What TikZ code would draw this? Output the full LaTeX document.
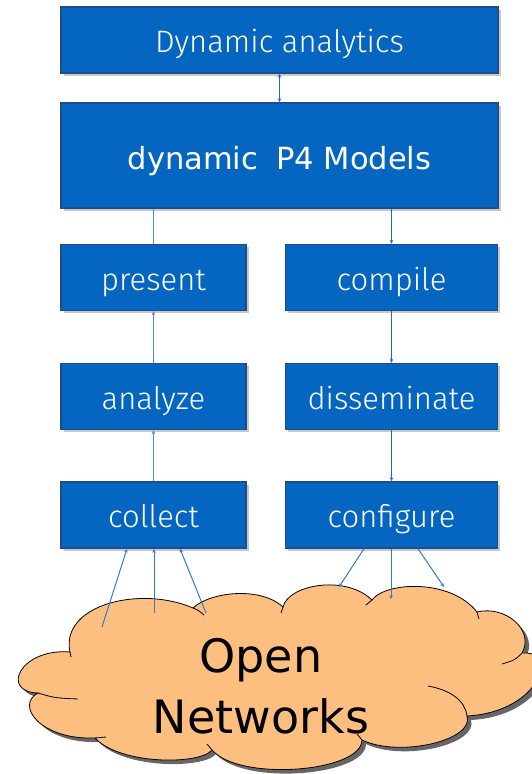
\documentclass[tikz,border=0pt]{standalone}
\usepackage{fontspec}
\setmainfont{DejaVu Sans}
\newfontfamily\lightsans{Fira Sans Light}
\usetikzlibrary{shadows,calc,arrows.meta}

\definecolor{boxblue}{HTML}{0566C1}
\definecolor{boxedge}{HTML}{1B4F8C}
\definecolor{linkup}{HTML}{4A8FD8}
\definecolor{linkdown}{HTML}{1A6CC4}
\definecolor{cloudfill}{HTML}{FDBF80}

\begin{document}
\begin{tikzpicture}[x=1pt,y=-1pt,
  tip/.tip={Stealth[length=4pt,width=3.5pt]},
  box/.style={draw=boxedge, line width=1.4pt, fill=boxblue, text=white,
    inner sep=0pt, minimum height=66pt, text height=30pt, text depth=5pt,
    font=\lightsans\fontsize{31}{36}\selectfont,
    drop shadow={shadow xshift=2.5pt, shadow yshift=-2.5pt, opacity=0.22, fill=black}},
  leftbox/.style={box, minimum width=185pt},
  rightbox/.style={box, minimum width=212pt},
  up/.style={draw=linkup, line width=1pt},
  down/.style={draw=linkdown, line width=1pt},
  netlink/.style={draw=linkdown!90!white, line width=1pt, -tip},
  cloudbody/.style={fill=cloudfill, draw=black, line width=0.8pt,
    drop shadow={shadow xshift=4pt, shadow yshift=-4pt, opacity=0.6, fill=black}},
  cloudline/.style={draw=black, line width=0.8pt}
]
\useasboundingbox (0,0) rectangle (531,774);

% control chain boxes
\node[box, minimum width=437pt] (da) at (279.5,40) {Dynamic analytics};
\node[box, minimum width=437pt, minimum height=105pt, text height=32pt, text depth=5pt,
      font=\fontsize{30.5}{36}\selectfont] (pm) at (279.5,155.5) {dynamic\hspace{0.6em}P4 Models};
\node[leftbox]  (present) at (153.5,277.5) {present};
\node[rightbox] (compile) at (391.5,277.5) {compile};
\node[leftbox]  (analyze) at (153.5,396.5) {analyze};
\node[rightbox] (dissem)  at (391.5,396.5) {disseminate};
\node[leftbox]  (collect) at (153.5,515) {collect};
\node[rightbox] (config)  at (391.5,515) {configure};

% links between the boxes
\draw[down, tip-tip] (da.south) -- (pm.north);
\draw[up] (present.north) -- (present.north |- pm.south);
\draw[up, -tip] (analyze.north) -- (present.south);
\draw[up, -tip] (collect.north) -- (analyze.south);
\draw[down, -tip] (compile.north |- pm.south) -- (compile.north);
\draw[down, -tip] (compile.south) -- (dissem.north);
\draw[down, -tip] (dissem.south) -- (config.north);

% the network cloud
\path[cloudbody] (70,652)
  .. controls (60,605) and (140,585) .. (193,608)
  .. controls (210,592) and (260,586) .. (283,607)
  .. controls (288,585) and (345,574) .. (372,600)
  .. controls (385,582) and (450,578) .. (477,612)
  .. controls (505,605) and (535,630) .. (522,653)
  .. controls (560,650) and (540,712) .. (467,716)
  .. controls (475,740) and (400,758) .. (362,740)
  .. controls (362,772) and (240,782) .. (212,750)
  .. controls (200,765) and (120,765) .. (95,738)
  .. controls (40,740) and (15,705) .. (38,693)
  .. controls (0,692) and (20,648) .. (70,652) -- cycle;
% inner lobe edges
\draw[cloudline] (193,608) .. controls (198,610) .. (204,615);
\draw[cloudline] (283,607) .. controls (282,610) .. (281,613);
\draw[cloudline] (372,600) .. controls (369,602) .. (366,605);
\draw[cloudline] (477,612) .. controls (478,615) .. (479,619);
\draw[cloudline] (522,653) .. controls (515,660) .. (502,664);
\draw[cloudline] (428,686) .. controls (450,690) and (465,700) .. (467,716);
\draw[cloudline] (362,740) .. controls (360,737) .. (357,734);
\draw[cloudline] (212,750) .. controls (210,747) .. (207,744);
\draw[cloudline] (95,738) .. controls (100,738) .. (106,737);
\draw[cloudline] (38,693) .. controls (55,698) .. (78,699);
\draw[cloudline] (70,652) .. controls (70,654) .. (71,657);

\node[font=\fontsize{46}{61}\selectfont, align=center, inner sep=0pt] (net) at (261,686) {Open\\Networks};

% links between the cloud and the chain ends
\coordinate (in1) at (102,627);
\coordinate (in2) at (154,613);
\coordinate (in3) at (206,613);
\coordinate (out1) at (339,587);
\coordinate (out2) at (391,599);
\coordinate (out3) at (444,587);
\draw[netlink] (in1) -- ($(collect.south)+(-26.5,0)$);
\draw[netlink] (in2) -- ($(collect.south)+(0.5,0)$);
\draw[netlink] (in3) -- ($(collect.south)+(26.5,0)$);
\draw[netlink] ($(config.south)+(-27.5,0)$) -- (out1);
\draw[netlink] ($(config.south)+(-0.5,0)$) -- (out2);
\draw[netlink] ($(config.south)+(26.5,0)$) -- (out3);
\end{tikzpicture}
\end{document}
